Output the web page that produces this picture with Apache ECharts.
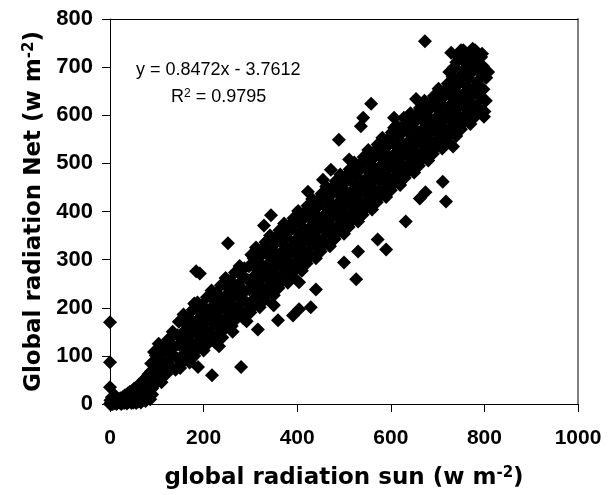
<!DOCTYPE html>
<html><head><meta charset="utf-8">
<script src="https://cdn.jsdelivr.net/npm/echarts@6/dist/echarts.min.js"></script>
<style>html,body{margin:0;padding:0;background:#fff}#c{width:615px;height:495px}</style>
</head><body><div id="c"></div>
<script>
const xTicks = [0, 200, 400, 600, 800, 1000];
const yTicks = [0, 100, 200, 300, 400, 500, 600, 700, 800];
const equationText = 'y = 0.8472x - 3.7612';
const r2Text = '0.9795';

const originCluster = [
[0,0],[2,3],[5,1],[8,6],[10,2],[12,8],[15,4],[18,10],[20,3],[22,12],[25,6],[28,15],[30,2],[32,18],[35,8],[38,22],[40,4],[42,25],[45,10],[48,28],[50,3],[52,32],[55,12],[58,36],[60,5],[62,40],[65,18],[68,45],[70,8],[72,50],[75,22],[78,55],[80,12],[82,62],[85,30],[88,68],[90,20],[3,0],[6,0],[14,0],[24,0],[36,1],[46,2],[56,2],[66,3],[76,6],[86,10],[0,35],[0,87],[0,170],[1,8],[4,14],[10,18],
[45,18],[50,22],[55,26],[60,24],[65,30],[70,34],[75,38],[80,40],[85,45],[60,14],[70,20],[80,26],[90,32],[95,40],[40,14],[35,12],[30,10],[25,10],[20,8],[88,50],[92,55],[96,62]
];
const lowRange = [
[90,36],[93,60],[88,84],[94,108],
[100,53],[103,77],[98,101],[104,125],
[110,45],[113,69],[108,93],[114,117],
[120,62],[123,86],[118,110],[124,134],
[130,78],[133,102],[128,126],[134,150],
[140,71],[143,95],[138,119],[144,143],
[150,75],[153,99],[148,123],[154,147],[147,171],
[160,92],[163,116],[158,140],[164,164],[157,186],
[170,86],[173,108],[168,132],[174,156],[167,180],
[180,100],[183,124],[178,148],[184,172],[177,196],
[190,117],[193,141],[188,165],[194,189],[187,211],
[200,111],[203,133],[198,157],[204,181],[197,205],
[210,126],[213,150],[208,174],[214,198],[207,222],
[220,142],[223,166],[218,190],[224,214],[217,236],
[230,137],[233,159],[228,183],[234,207],[227,231],
[240,151],[243,175],[238,199],[244,223],[237,247],
[250,168],[253,192],[248,216],[254,240],[247,262],
[260,162],[263,184],[258,208],[264,232],[257,256],
[270,177],[273,201],[268,225],[274,249],[267,273],
[280,193],[283,217],[278,241],[284,265],[277,287],
[290,188],[293,210],[288,234],[294,258],[287,282],
[292,172],[285,178],[262,150],[240,138],[225,128]
];
const midRange = [
[300,190],[303,214],[298,238],[304,262],[297,286],[302,310],
[310,207],[313,231],[308,255],[314,279],[307,303],[312,325],
[320,201],[323,223],[318,247],[324,271],[317,295],[322,319],
[330,216],[333,240],[328,264],[334,288],[327,312],[332,336],
[340,232],[343,256],[338,280],[344,304],[337,328],[342,350],
[350,226],[353,248],[348,272],[354,296],[347,320],[352,344],
[360,241],[363,265],[358,289],[364,313],[357,337],[362,361],
[370,257],[373,281],[368,305],[374,329],[367,353],[372,375],
[380,252],[383,274],[378,298],[384,322],[377,346],[382,370],
[390,266],[393,290],[388,314],[394,338],[387,362],[392,386],
[400,283],[403,307],[398,331],[404,355],[397,379],[402,401],
[410,277],[413,299],[408,323],[414,347],[407,371],[412,395],
[420,292],[423,316],[418,340],[424,364],[417,388],[422,412],
[430,308],[433,332],[428,356],[434,380],[427,404],[432,426],
[440,303],[443,325],[438,349],[444,373],[437,397],[442,421],
[450,317],[453,341],[448,365],[454,389],[447,413],[452,437],
[460,334],[463,358],[458,382],[464,406],[457,430],[462,452],
[470,328],[473,350],[468,374],[474,398],[467,422],[472,446],
[480,343],[483,367],[478,391],[484,415],[477,439],[482,463],
[490,359],[493,383],[488,407],[494,431],[487,455],[492,477],
[500,354],[503,376],[498,400],[504,424],[497,448],[502,472],
[510,368],[513,392],[508,416],[514,440],[507,464],[512,488],
[520,384],[523,408],[518,432],[524,456],[517,480],[522,502],
[530,379],[533,401],[528,425],[534,449],[527,473],[532,497],
[540,393],[543,417],[538,441],[544,465],[537,489],[542,513],
[550,410],[553,434],[548,458],[554,482],[547,506],[552,528]
];
const highRange = [
[560,404],[563,426],[558,450],[564,474],[557,498],[562,522],
[570,419],[573,443],[568,467],[574,491],[567,515],[572,539],
[580,435],[583,459],[578,483],[584,507],[577,531],[582,553],
[590,430],[593,452],[588,476],[594,500],[587,524],[592,548],
[600,444],[603,468],[598,492],[604,516],[597,540],[602,564],
[610,461],[613,485],[608,509],[614,533],[607,557],[612,579],
[620,455],[623,477],[618,501],[624,525],[617,549],[622,573],
[630,470],[633,494],[628,518],[634,542],[627,566],[632,590],
[640,486],[643,510],[638,534],[644,558],[637,582],[642,604],
[650,481],[653,503],[648,527],[654,551],[647,575],[652,599],
[660,495],[663,519],[658,543],[664,567],[657,591],[662,615],
[670,512],[673,536],[668,560],[674,584],[667,608],[672,630],
[680,506],[683,528],[678,552],[684,576],[677,600],[682,624],
[690,520],[693,544],[688,568],[694,592],[687,616],[692,640],
[700,537],[703,561],[698,585],[704,609],[697,633],[702,655],
[710,531],[713,553],[708,577],[714,601],[707,625],[712,649],
[720,546],[723,570],[718,594],[724,618],[717,642],[722,666],
[730,562],[733,586],[728,610],[734,634],[727,658],[732,680],
[740,557],[743,579],[738,603],[744,627],[737,651],[742,675],
[750,571],[753,595],[748,619],[754,643],[747,667],[752,691],
[760,588],[763,612],[758,636],[764,660],[757,684],[762,706],
[770,582],[773,604],[768,628],[774,652],[767,676],[772,700],
[780,597],[783,621],[778,645],[784,669],[777,693],[782,717],
[790,613],[793,637],[788,661],[794,685],[787,709],
[800,608],[803,630],[798,654],[804,678],[797,702],
[745,720],[755,735],[765,728],[775,738],[785,730],[760,718],[770,715],[795,728],[780,735],[735,700],[725,690],[740,710]
];
const outliers = [
[192,271],[184,276],[252,334],[182,207],[280,77],[218,60],[188,77],[233,120],[316,155],[359,174],[391,184],[404,197],[350,205],[404,253],[429,201],[440,238],[526,259],[348,207],[180,209],[558,624],[541,595],[536,577],[607,595],[489,549],[511,508],[472,487],[455,466],[423,441],[344,392],[329,371],[632,379],[662,427],[718,421],[572,342],[590,321],[530,317],[500,294],[673,754],[808,690],[799,597],[654,634],[607,574],[628,595],[711,462],[733,535],[735,570],[729,730],[750,735],[770,725],[793,721],[674,440]
];

const allPoints = [].concat(originCluster, lowRange, midRange, highRange, outliers);

const chart = echarts.init(document.getElementById('c'), null, {renderer: 'canvas'});
const fontFam = 'Arial, "Liberation Sans", Helvetica, sans-serif';
const nameFam = '"DejaVu Sans", Verdana, sans-serif';
const nameStyle = {fontFamily: nameFam, fontWeight: 'bold', fontSize: 23, color: '#000',
  rich: {sup: {fontFamily: nameFam, fontWeight: 'bold', fontSize: 15, color: '#000', verticalAlign: 'top', padding: [0,0,10,0]}}};
chart.setOption({
  animation: false,
  backgroundColor: '#fff',
  grid: {left: 110, right: 37, top: 19, bottom: 90, containLabel: false},
  xAxis: [{
    type: 'value', min: xTicks[0], max: xTicks[xTicks.length-1], interval: 200,
    position: 'bottom',
    name: 'global radiation sun (w m{sup|-2})',
    nameLocation: 'middle', nameGap: 62,
    nameTextStyle: nameStyle,
    axisLine: {show: true, onZero: false, lineStyle: {color: '#000', width: 1}},
    axisTick: {show: true, inside: false, length: 8, lineStyle: {color: '#000'}},
    axisLabel: {margin: 24, fontFamily: fontFam, fontWeight: 'bold', fontSize: 21, color: '#000', formatter: v => String(v)},
    splitLine: {show: false}
  }, {
    type: 'value', min: 0, max: 1000, position: 'top',
    axisLine: {show: true, onZero: false, lineStyle: {color: '#000', width: 1}},
    axisTick: {show: false}, axisLabel: {show: false}, splitLine: {show: false}
  }],
  yAxis: [{
    type: 'value', min: yTicks[0], max: yTicks[yTicks.length-1], interval: 100,
    position: 'left',
    name: 'Global radiation Net (w m{sup|-2})',
    nameLocation: 'middle', nameGap: 58, nameRotate: 90,
    nameTextStyle: nameStyle,
    axisLine: {show: true, onZero: false, lineStyle: {color: '#000', width: 1}},
    axisTick: {show: true, inside: false, length: 8, lineStyle: {color: '#000'}},
    axisLabel: {margin: 17, fontFamily: fontFam, fontWeight: 'bold', fontSize: 22, color: '#000', formatter: v => String(v)},
    splitLine: {show: false}
  }, {
    type: 'value', min: 0, max: 800, position: 'right',
    axisLine: {show: true, onZero: false, lineStyle: {color: '#808080', width: 2}},
    axisTick: {show: false}, axisLabel: {show: false}, splitLine: {show: false}
  }],
  graphic: [
    {type: 'text', left: 136, top: 61, style: {text: equationText, font: '18px ' + fontFam, fill: '#000'}},
    {type: 'text', left: 171, top: 88, style: {text: 'R{sup|2} = ' + r2Text, font: '18px ' + fontFam, fill: '#000',
      rich: {sup: {font: '12px ' + fontFam, fill: '#000', verticalAlign: 'top'}}}}
  ],
  series: [{
    type: 'scatter', xAxisIndex: 0, yAxisIndex: 0,
    symbol: 'diamond', symbolSize: 14,
    itemStyle: {color: '#000', opacity: 1},
    data: allPoints, clip: false
  }]
});
</script></body></html>
